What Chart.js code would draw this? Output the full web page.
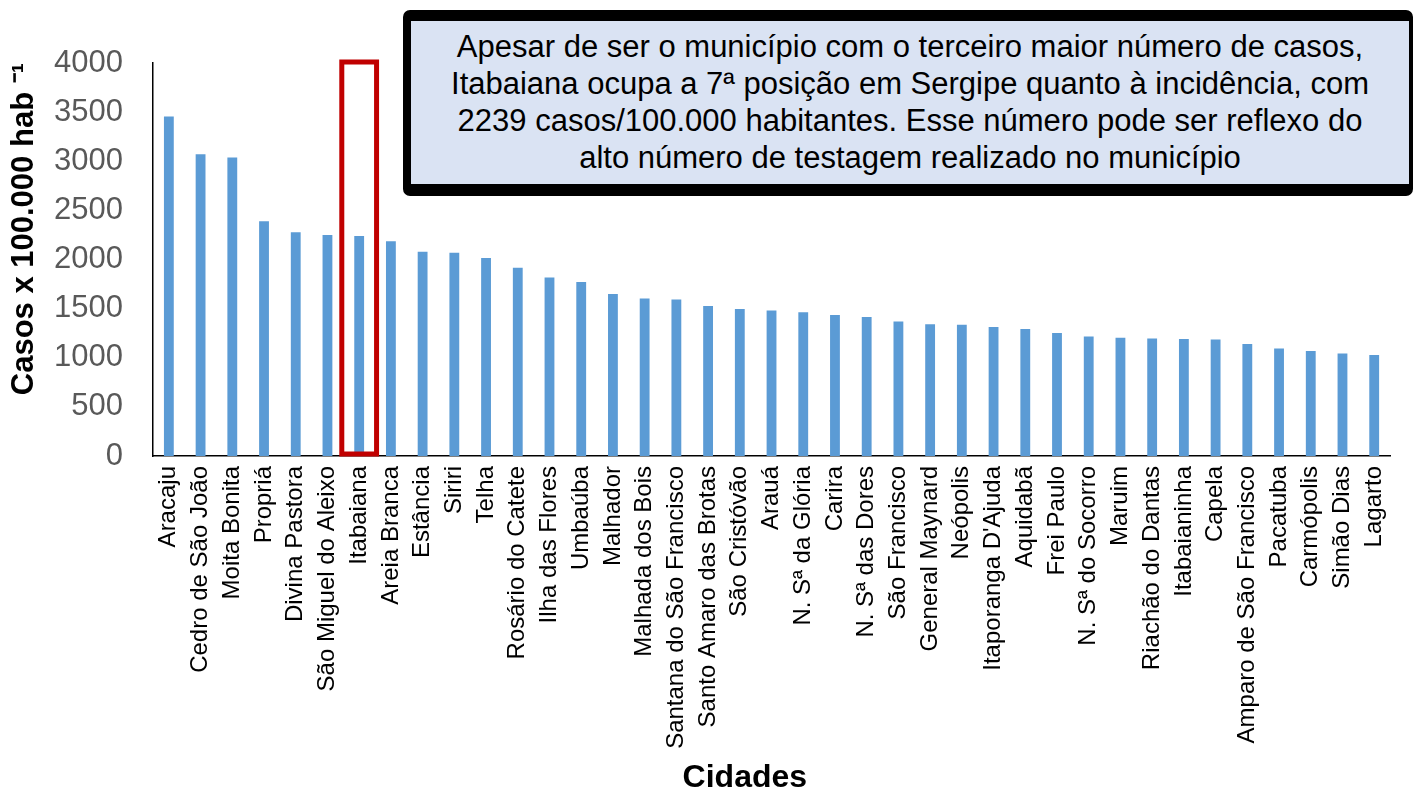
<!DOCTYPE html>
<html>
<head>
<meta charset="utf-8">
<script src="https://cdn.jsdelivr.net/npm/chart.js@4/dist/chart.umd.min.js"></script>
<style>
html,body{margin:0;padding:0;background:#fff;overflow:hidden;}
#wrap{position:relative;width:1413px;height:791px;}
#note{position:absolute;left:403px;top:10px;width:1010px;height:186px;box-sizing:border-box;
  border:8px solid #000;border-top-width:11px;border-bottom-width:12px;border-right-width:4px;border-radius:7px;
  background:#DAE3F3;font-family:"Liberation Sans",Arial,sans-serif;font-size:31px;line-height:37px;
  text-align:center;color:#000;padding-top:7px;white-space:nowrap;}
</style>
</head>
<body>
<div id="wrap">
  <canvas id="c" width="1413" height="791"></canvas>
  <div id="note">Apesar de ser o município com o terceiro maior número de casos,<br>Itabaiana ocupa a 7ª posição em Sergipe quanto à incidência, com<br>2239 casos/100.000 habitantes. Esse número pode ser reflexo do<br>alto número de testagem realizado no município</div>
</div>
<script>
const categories = ["Aracaju","Cedro de São João","Moita Bonita","Propriá","Divina Pastora","São Miguel do Aleixo","Itabaiana","Areia Branca","Estância","Siriri","Telha","Rosário do Catete","Ilha das Flores","Umbaúba","Malhador","Malhada dos Bois","Santana do São Francisco","Santo Amaro das Brotas","São Cristóvão","Arauá","N. Sª da Glória","Carira","N. Sª das Dores","São Francisco","General Maynard","Neópolis","Itaporanga D'Ajuda","Aquidabã","Frei Paulo","N. Sª do Socorro","Maruim","Riachão do Dantas","Itabaianinha","Capela","Amparo de São Francisco","Pacatuba","Carmópolis","Simão Dias","Lagarto"];
const incidence = [3455,3071,3038,2390,2278,2250,2239,2187,2078,2068,2014,1915,1817,1770,1648,1604,1593,1526,1495,1481,1464,1434,1414,1370,1342,1335,1312,1292,1251,1217,1203,1197,1190,1187,1139,1095,1068,1044,1027];
const yTicks = [0,500,1000,1500,2000,2500,3000,3500,4000];
const highlightCity = "Itabaiana";

const FONT = '"Liberation Sans", Arial, sans-serif';

const highlightPlugin = {
  id: 'highlight',
  afterDatasetsDraw(chart) {
    const xs = chart.scales.x, ys = chart.scales.y;
    const i = categories.indexOf(highlightCity);
    const cx = xs.getPixelForValue(i);
    const cw = xs.getPixelForValue(1) - xs.getPixelForValue(0);
    const top = ys.getPixelForValue(yTicks[yTicks.length - 1]) - 1;
    const bottom = ys.getPixelForValue(yTicks[0]) - 2;
    const ctx = chart.ctx;
    ctx.save();
    ctx.strokeStyle = '#C00000';
    ctx.lineWidth = 5;
    ctx.strokeRect(cx - 0.548 * cw, top, 1.096 * cw, bottom - top);
    ctx.restore();
  }
};

new Chart(document.getElementById('c'), {
  type: 'bar',
  data: {
    labels: categories,
    datasets: [{
      data: incidence,
      backgroundColor: '#5B9BD5',
      borderWidth: 0,
      barPercentage: 0.31,
      categoryPercentage: 1
    }]
  },
  options: {
    responsive: false,
    animation: false,
    layout: { padding: { top: 63, right: 0, left: 0, bottom: 0 } },
    plugins: { legend: { display: false }, tooltip: { enabled: false } },
    scales: {
      x: {
        grid: { display: false, drawTicks: false },
        border: { display: true, color: '#000', width: 1.5 },
        ticks: { autoSkip: false, maxRotation: 90, minRotation: 90, padding: 10, color: '#000',
                 font: { family: FONT, size: 24 } },
        title: { display: true, text: 'Cidades' + '\u00a0'.repeat(6), color: '#000',
                 font: { family: FONT, size: 32, weight: 'bold', lineHeight: 0.8 },
                 padding: { top: 0, bottom: 0 } },
        afterFit(s) { s.height = 335; }
      },
      y: {
        min: yTicks[0], max: yTicks[yTicks.length - 1],
        afterBuildTicks(s) { s.ticks = yTicks.map(v => ({ value: v })); },
        grid: { display: false, drawTicks: false },
        border: { display: true, color: '#000', width: 1.5 },
        ticks: { padding: 30, color: '#595959', font: { family: FONT, size: 31 },
                 callback: v => String(v) },
        title: { display: true, align: 'end', text: 'Casos x 100.000 hab ⁻¹', color: '#000',
                 font: { family: FONT, size: 31, weight: 'bold', lineHeight: 1.2 },
                 padding: { top: 6, bottom: 0 } },
        afterFit(s) { s.width = 153; }
      }
    }
  },
  plugins: [highlightPlugin]
});
</script>
</body>
</html>
